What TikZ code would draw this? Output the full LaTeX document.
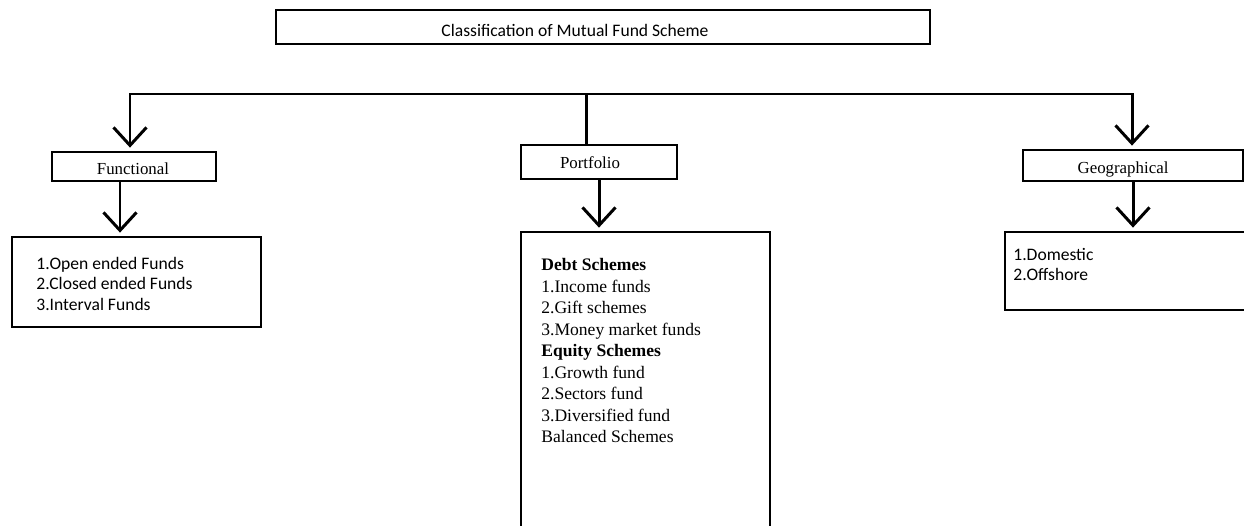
\documentclass[tikz,border=0pt]{standalone}
\usepackage{fontspec}
\setmainfont{Liberation Serif}
\newfontfamily\calibri{Carlito}
\usetikzlibrary{arrows.meta, positioning}

\tikzset{
  box/.style={draw, line width=1.6pt, rectangle, inner sep=0pt},
  headlabel/.style={font=\fontsize{9.6}{11}\selectfont, inner sep=0pt},
  listtext/.style={inner sep=0pt, align=left, anchor=north west},
  link/.style={line width=1.7pt, line cap=rect},
  arr/.style={link, -{Straight Barb[length=0.36cm, width=0.66cm]}, shorten >=0.06cm},
}

\begin{document}
\begin{tikzpicture}[x=0.02cm, y=-0.02cm]
\useasboundingbox (0,0) rectangle (1244,525);
% top box
\node[box, minimum width=13.08cm, minimum height=0.68cm,
  label={[xshift=-0.56cm, yshift=-0.06cm, font=\calibri\fontsize{10}{12}\selectfont]center:Classification of Mutual Fund Scheme}] (title) at (603,27) {};

% second level
\node[box, minimum width=3.28cm, minimum height=0.58cm,
  label={[headlabel, xshift=-0.02cm, yshift=-0.05cm]center:Functional}] (functional) at (134,166.5) {};
\node[box, minimum width=3.12cm, minimum height=0.68cm,
  label={[headlabel, xshift=-0.18cm, yshift=-0.02cm]center:Portfolio}] (portfolio) at (599,162) {};
\node[box, minimum width=4.4cm, minimum height=0.62cm,
  label={[headlabel, xshift=-0.2cm, yshift=-0.07cm]center:Geographical}] (geographical) at (1133,165.5) {};

% list boxes
\node[box, minimum width=4.98cm, minimum height=1.8cm] (funlist) at (136.5,282) {};
\node[box, minimum width=4.98cm, minimum height=5.96cm] (portlist) at (645.5,381) {};
\node[box, minimum width=4.9cm, minimum height=1.56cm] (geolist) at (1127.5,271) {};

\node[listtext, font=\calibri\fontsize{10}{11.6}\selectfont] (funtext) at (36,257)
  {1.Open ended Funds\\2.Closed ended Funds\\3.Interval Funds};
\node[listtext, font=\fontsize{10}{12.25}\selectfont] (porttext) at (541,258)
  {\textbf{Debt Schemes}\\1.Income funds\\2.Gift schemes\\3.Money market funds\\
   \textbf{Equity Schemes}\\1.Growth fund\\2.Sectors fund\\3.Diversified fund\\Balanced Schemes};
\node[listtext, font=\calibri\fontsize{10}{11.6}\selectfont] (geotext) at (1013,248)
  {1.Domestic\\2.Offshore};

% connectors
\coordinate (barL) at (130,94);
\coordinate (barM) at (586,94);
\coordinate (barR) at (1132,94);
\draw[link] (barL) -- (barR);
\draw[arr] (barL) -- (barL |- functional.north);
\draw[link] (barM) -- (barM |- portfolio.north);
\draw[arr] (barR) -- (barR |- geographical.north);
\coordinate (funin) at ([xshift=-0.28cm]functional.south);
\draw[arr] (funin) -- (funin |- funlist.north);
\draw[arr] (portfolio.south) -- (portfolio.south |- portlist.north);
\draw[arr] (geographical.south) -- (geographical.south |- geolist.north);
\end{tikzpicture}
\end{document}
